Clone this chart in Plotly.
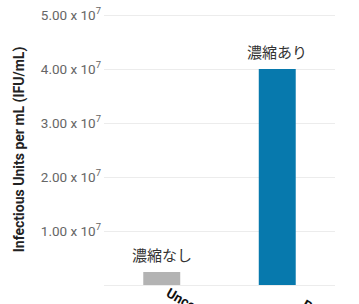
import plotly.graph_objects as go

categories = ["Unconcentrated", "PEG-it Concentrated"]
x_tick_text = ["Unconcentrated", "\u00a0" * 7 + "PEG-it Concentrated"]
values = [2.4e6, 4.0e7]
bar_colors = ["#b3b3b3", "#0779ad"]
bar_labels = ["濃縮なし", "濃縮あり"]
tick_vals = [1e7, 2e7, 3e7, 4e7, 5e7]
tick_text = ["1.00 x 10<sup>7</sup>", "2.00 x 10<sup>7</sup>", "3.00 x 10<sup>7</sup>",
             "4.00 x 10<sup>7</sup>", "5.00 x 10<sup>7</sup>"]
y_title = "Infectious Units per mL (IFU/mL)"

fig = go.Figure()
fig.add_trace(go.Bar(
    x=categories, y=values,
    marker=dict(color=bar_colors, line=dict(width=0)),
    width=0.32,
    hoverinfo="skip",
))

for cat, val, lab in zip(categories, values, bar_labels):
    fig.add_annotation(
        x=cat, y=val, text=lab, showarrow=False,
        yanchor="bottom", yshift=5,
        font=dict(family="Noto Sans CJK JP", size=15, color="#333333"),
    )

fig.update_layout(
    width=359, height=304,
    margin=dict(l=104, r=24, t=14, b=19),
    paper_bgcolor="white", plot_bgcolor="white",
    showlegend=False,
    font=dict(family="Roboto", color="#555555"),
    xaxis=dict(
        showgrid=False, showline=False, ticks="", ticklen=0,
        tickmode="array", tickvals=categories, ticktext=x_tick_text,
        tickfont=dict(family="Roboto", size=13.6, color="#111111", weight="bold"),
        ticklabelstandoff=-3, ticklabelshift=7,
        automargin=False,
    ),
    yaxis=dict(
        range=[0, 5.02e7],
        tickvals=tick_vals, ticktext=tick_text,
        tickfont=dict(family="Roboto", size=13.5, color="#666666"),
        showgrid=True, gridcolor="#ececec", gridwidth=1,
        zeroline=True, zerolinecolor="#ececec", zerolinewidth=1,
        showline=False, ticks="", ticklabelstandoff=2,
        title=dict(text=y_title, standoff=12,
                   font=dict(family="Roboto", size=14, color="#222222", weight="bold")),
        automargin=False,
    ),
)

fig.write_html(
    "out.html",
    config={"displayModeBar": False},
    post_script="document.body.style.margin='0';document.body.style.overflow='hidden';",
)
